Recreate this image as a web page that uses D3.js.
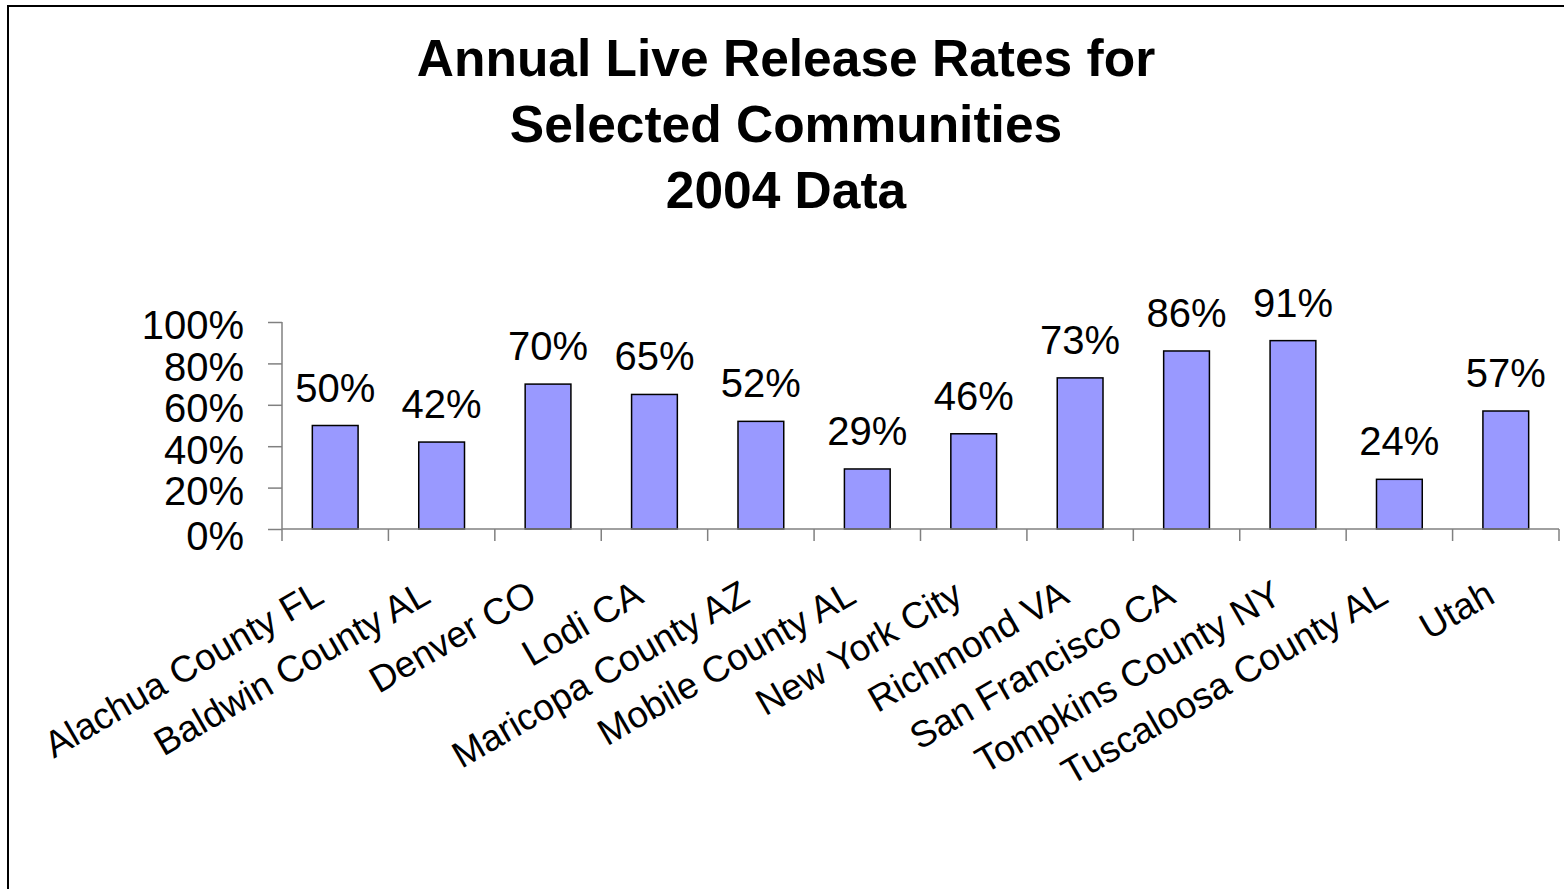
<!DOCTYPE html>
<html>
<head>
<meta charset="utf-8">
<script src="https://cdn.jsdelivr.net/npm/d3@7"></script>
<style>
  body { margin: 0; background: #fff; }
  text { font-family: "Liberation Sans", Arial, sans-serif; fill: #000; }
</style>
</head>
<body>
<div id="chart"></div>
<script>
const width = 1564, height = 889;
const margin = {top: 322, right: 5, bottom: 360, left: 282};

// data
const communities = ['Alachua County FL', 'Baldwin County AL', 'Denver CO', 'Lodi CA',
  'Maricopa County AZ', 'Mobile County AL', 'New York City', 'Richmond VA',
  'San Francisco CA', 'Tompkins County NY', 'Tuscaloosa County AL', 'Utah'];
const rates = [50, 42, 70, 65, 52, 29, 46, 73, 86, 91, 24, 57];
const yTicks = [0, 20, 40, 60, 80, 100];
const titleLines = ['Annual Live Release Rates for', 'Selected Communities', '2004 Data'];

const svg = d3.select('#chart').append('svg')
  .attr('width', width).attr('height', height);

// outer frame (cut off at right/bottom like the source)
svg.append('rect')
  .attr('x', 8).attr('y', 6)
  .attr('width', 1700).attr('height', 1000)
  .attr('fill', 'none').attr('stroke', '#000').attr('stroke-width', 2);

// title
svg.append('g').selectAll('text')
  .data(titleLines)
  .enter().append('text')
  .attr('x', 786)
  .attr('y', (d, i) => 76 + i * 66)
  .attr('text-anchor', 'middle')
  .style('font-size', '51.5px')
  .style('font-weight', 'bold')
  .text(d => d);

const plotW = 1559 - margin.left;
const plotH = 529 - margin.top;
const g = svg.append('g')
  .attr('transform', 'translate(' + margin.left + ',' + margin.top + ')');

const x = d3.scaleBand().domain(communities).range([0, plotW]).paddingInner(0.57).paddingOuter(0.285);
const xOuter = d3.scaleBand().domain(communities).range([0, plotW]);
const y = d3.scaleLinear().domain([0, 100]).range([plotH, 0]);

// y axis
const yAxis = g.append('g')
  .call(d3.axisLeft(y).tickValues(yTicks).tickSize(14).tickFormat(d => d + '%'));
yAxis.selectAll('line, path').attr('stroke', '#808080').attr('stroke-width', 1.5);
yAxis.select('.domain').attr('d', 'M0,' + plotH + 'V0');
yAxis.selectAll('text')
  .style('font-size', '40px')
  .attr('fill', '#000')
  .attr('x', -38)
  .attr('dy', d => (d === 0 ? '0.5em' : '0.42em'));

// bars
g.selectAll('rect.bar')
  .data(rates)
  .enter().append('rect')
  .attr('class', 'bar')
  .attr('x', (d, i) => x(communities[i]))
  .attr('y', d => y(d))
  .attr('width', x.bandwidth())
  .attr('height', d => plotH - y(d))
  .attr('fill', '#9999ff')
  .attr('stroke', '#000')
  .attr('stroke-width', 1.5);

// x axis
const xAxisG = g.append('g').attr('transform', 'translate(0,' + plotH + ')');
xAxisG.append('line')
  .attr('x1', 0).attr('x2', plotW)
  .attr('stroke', '#808080').attr('stroke-width', 1.5);
xAxisG.selectAll('line.tick')
  .data(communities.concat(['end']))
  .enter().append('line')
  .attr('class', 'tick')
  .attr('x1', (d, i) => i * xOuter.step()).attr('x2', (d, i) => i * xOuter.step())
  .attr('y1', 0).attr('y2', 12)
  .attr('stroke', '#808080').attr('stroke-width', 1.5);

// category labels
xAxisG.selectAll('text.cat')
  .data(communities)
  .enter().append('text')
  .attr('class', 'cat')
  .attr('text-anchor', 'end')
  .attr('transform', d => 'translate(' + (x(d) + x.bandwidth() / 2 - 22) + ',50) rotate(-30)')
  .attr('dy', '0.7em')
  .style('font-size', '37px')
  .text(d => d);

// value labels
g.selectAll('text.val')
  .data(rates)
  .enter().append('text')
  .attr('class', 'val')
  .attr('x', (d, i) => x(communities[i]) + x.bandwidth() / 2)
  .attr('y', d => y(d) - 24)
  .attr('text-anchor', 'middle')
  .style('font-size', '40px')
  .text(d => d + '%');
</script>
</body>
</html>
